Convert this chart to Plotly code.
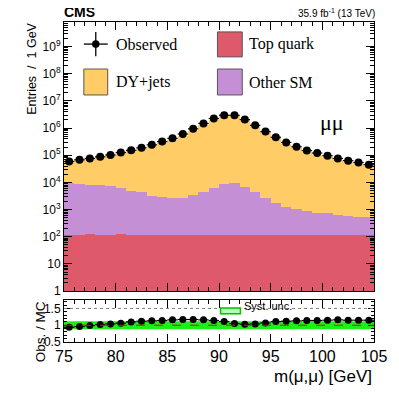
import numpy as np
import plotly.graph_objects as go

# ---------------- data ----------------
bin_low = list(range(75, 105))
bin_centers = [b + 0.5 for b in bin_low]

observed = [58900, 67600, 75900, 87100, 102300, 125900, 151400, 186200, 239900, 316200,
            416900, 602600, 933300, 1479000, 2239000, 2951000, 2920000, 2042000, 1259000, 741000,
            457000, 295000, 204000, 148000, 120000, 95500, 75900, 63100, 53700, 44700]

dy_jets = [53330, 61510, 68350, 77630, 91290, 112310, 132630, 161980, 209060, 274490,
           356830, 512290, 794380, 1270630, 1957540, 2649690, 2771670, 1975740, 1206330, 689870,
           409960, 262170, 179480, 128930, 104560, 82300, 64810, 54280, 46150, 38345]

other_sm = [9212, 8790, 8198, 7648, 6967, 6336, 4892, 4154, 3123, 2759,
            2451, 2633, 3197, 4254, 6344, 8797, 9214, 6643, 4154, 2513,
            1625, 1118, 903, 749, 624, 623, 505, 474, 433, 409]

top_quark = [118, 120, 122, 112, 113, 124, 118, 116, 117, 121,
             119, 117, 113, 116, 116, 113, 116, 117, 116, 117,
             115, 112, 117, 121, 116, 117, 115, 116, 117, 116]

syst_unc = [0.12] * 30

y_tickvals = [1, 10, 100, 1e3, 1e4, 1e5, 1e6, 1e7, 1e8, 1e9]
y_ticktext = ["1", "10", "10<sup>2</sup>", "10<sup>3</sup>", "10<sup>4</sup>", "10<sup>5</sup>",
              "10<sup>6</sup>", "10<sup>7</sup>", "10<sup>8</sup>", "10<sup>9</sup>"]
r_tickvals = [0.5, 1, 1.5]
r_ticktext = ["0.5", "1", "1.5"]
x_tickvals = [75, 80, 85, 90, 95, 100, 105]

# ---------------- derived ----------------
obs = np.array(observed, dtype=float)
mc = np.array(dy_jets) + np.array(other_sm) + np.array(top_quark)
ratio = obs / mc

C_TOP = "#de5a6a"
C_DY = "#ffcc66"
C_OTH = "#c48fd4"
SANS = "Liberation Sans, Arial, sans-serif"
SERIF = "Liberation Serif, Times New Roman, serif"

fig = go.Figure()

for name, vals, col in [("Top quark", top_quark, C_TOP), ("Other SM", other_sm, C_OTH),
                        ("DY+jets", dy_jets, C_DY)]:
    fig.add_trace(go.Bar(x=bin_centers, y=vals, width=1.0, name=name,
                         marker=dict(color=col, line=dict(width=0)),
                         xaxis="x", yaxis="y", showlegend=False))

fig.add_trace(go.Scatter(x=bin_centers, y=observed, mode="markers",
                         marker=dict(color="black", size=8),
                         error_x=dict(type="constant", value=0.5, color="black", thickness=1.2, width=0),
                         error_y=dict(type="data", array=list(np.sqrt(obs)), color="black", thickness=1.2, width=0),
                         xaxis="x", yaxis="y", showlegend=False))

# ratio band (systematic)
edges = bin_low + [bin_low[-1] + 1]
up = [1 + u for u in syst_unc] + [1 + syst_unc[-1]]
dn = [1 - u for u in syst_unc] + [1 - syst_unc[-1]]
fig.add_trace(go.Scatter(x=edges, y=up, mode="lines", line=dict(width=0, shape="hv"),
                         xaxis="x2", yaxis="y2", showlegend=False, hoverinfo="skip"))
fig.add_trace(go.Scatter(x=edges, y=dn, mode="lines", line=dict(width=0, shape="hv"),
                         fill="tonexty", fillcolor="rgba(0,240,0,0.9)",
                         xaxis="x2", yaxis="y2", showlegend=False, hoverinfo="skip"))

fig.add_trace(go.Scatter(x=bin_centers, y=list(ratio), mode="markers",
                         marker=dict(color="black", size=7),
                         error_x=dict(type="constant", value=0.5, color="black", thickness=1.2, width=0),
                         xaxis="x2", yaxis="y2", showlegend=False))

axis_common = dict(showline=True, linecolor="black", linewidth=1, mirror="ticks",
                   ticks="inside", tickcolor="black", showgrid=False, zeroline=False)

# page body has an 8px margin: figure occupies screen 8..399
fig.update_layout(
    width=391, height=391,
    margin=dict(l=56, r=21, t=14, b=57),
    paper_bgcolor="white", plot_bgcolor="white",
    barmode="stack", bargap=0,
    xaxis=dict(domain=[0, 1], range=[75, 105], anchor="y", showticklabels=False,
               tickvals=x_tickvals, ticklen=8,
               minor=dict(ticks="inside", dtick=1, ticklen=4, tickcolor="black"),
               **axis_common),
    yaxis=dict(domain=[0.159, 1], type="log", range=[0, 9.9], anchor="x",
               tickvals=y_tickvals, ticktext=y_ticktext, ticklen=8,
               tickfont=dict(family=SANS, size=12, color="black"),
               minor=dict(ticks="inside", dtick="D1", ticklen=4, tickcolor="black"),
               **axis_common),
    xaxis2=dict(domain=[0, 1], range=[75, 105], anchor="y2", matches="x",
                tickvals=x_tickvals, ticklen=8,
                tickfont=dict(family=SANS, size=16, color="black"),
                minor=dict(ticks="inside", dtick=1, ticklen=4, tickcolor="black"),
                **axis_common),
    yaxis2=dict(domain=[0, 0.131], range=[0.5, 1.75], anchor="x2",
                tickvals=r_tickvals, ticktext=r_ticktext, ticklen=6,
                tickfont=dict(family=SANS, size=12, color="black"),
                minor=dict(ticks="inside", dtick=0.1, ticklen=3, tickcolor="black"),
                **axis_common),
)

shapes = []
shapes.append(dict(type="line", xref="x2", yref="y2", x0=75, x1=105, y0=1, y1=1,
                   line=dict(color="red", width=1.2, dash="dash")))
shapes.append(dict(type="line", xref="x2", yref="y2", x0=75, x1=105, y0=1.5, y1=1.5,
                   line=dict(color="gray", width=1, dash="dot")))

# legend: observed
shapes.append(dict(type="line", xref="paper", yref="paper", x0=0.064, x1=0.141, y0=0.931, y1=0.931,
                   line=dict(color="black", width=1.3)))
shapes.append(dict(type="line", xref="paper", yref="paper", x0=0.1025, x1=0.1025, y0=0.969, y1=0.893,
                   line=dict(color="black", width=1.3)))
shapes.append(dict(type="circle", xref="paper", yref="paper", x0=0.0905, x1=0.1145, y0=0.919, y1=0.943,
                   fillcolor="black", line=dict(color="black", width=0)))
for (x0, x1, y0, y1, col) in [(0.064, 0.141, 0.772, 0.853, C_DY),
                              (0.495, 0.575, 0.891, 0.969, C_TOP),
                              (0.495, 0.575, 0.772, 0.853, C_OTH)]:
    shapes.append(dict(type="rect", xref="paper", yref="paper", x0=x0, x1=x1, y0=y0, y1=y1,
                       fillcolor=col, line=dict(color="#555555", width=1)))
shapes.append(dict(type="rect", xref="paper", yref="paper", x0=0.505, x1=0.569, y0=0.088, y1=0.106,
                   fillcolor="#b8ffb8", line=dict(color="#00c000", width=1.5)))
fig.update_layout(shapes=shapes)

ann = []
ann.append(dict(text="<b>CMS</b>", x=-0.005, y=1.031, xref="paper", yref="paper", xanchor="left",
                yanchor="middle", showarrow=False, font=dict(family=SANS, size=14, color="black")))
ann.append(dict(text="35.9 fb<sup>-1</sup> (13 TeV)", x=1.01, y=1.028, xref="paper", yref="paper",
                xanchor="right", yanchor="middle", showarrow=False,
                font=dict(family=SANS, size=10, color="black")))
ann.append(dict(text="Entries  /  1 GeV", x=-0.102, y=1.005, xref="paper", yref="paper",
                xanchor="center", yanchor="top", textangle=-90, showarrow=False,
                font=dict(family=SANS, size=12.5, color="black")))
ann.append(dict(text="Obs. / MC", x=-0.077, y=0.031, xref="paper", yref="paper",
                xanchor="center", yanchor="middle", textangle=-90, showarrow=False,
                font=dict(family=SANS, size=13.5, color="black")))
ann.append(dict(text="m(\u03bc,\u03bc) [GeV]", x=1.0, y=-0.109, xref="paper", yref="paper",
                xanchor="right", yanchor="middle", showarrow=False,
                font=dict(family=SANS, size=17, color="black")))
ann.append(dict(text="\u03bc\u03bc", x=0.863, y=0.6875, xref="paper", yref="paper",
                xanchor="center", yanchor="middle", showarrow=False,
                font=dict(family=SERIF, size=22, color="black")))
for txt, x, y in [("Observed", 0.160, 0.931), ("DY+jets", 0.160, 0.8125),
                  ("Top quark", 0.591, 0.931), ("Other SM", 0.591, 0.8125)]:
    ann.append(dict(text=txt, x=x, y=y, xref="paper", yref="paper", xanchor="left",
                    yanchor="middle", showarrow=False,
                    font=dict(family=SERIF, size=16, color="black")))
ann.append(dict(text="Syst. unc.", x=0.575, y=0.1125, xref="paper", yref="paper", xanchor="left",
                yanchor="middle", showarrow=False, font=dict(family=SANS, size=11, color="black")))
fig.update_layout(annotations=ann)

fig.write_html("out.html")
